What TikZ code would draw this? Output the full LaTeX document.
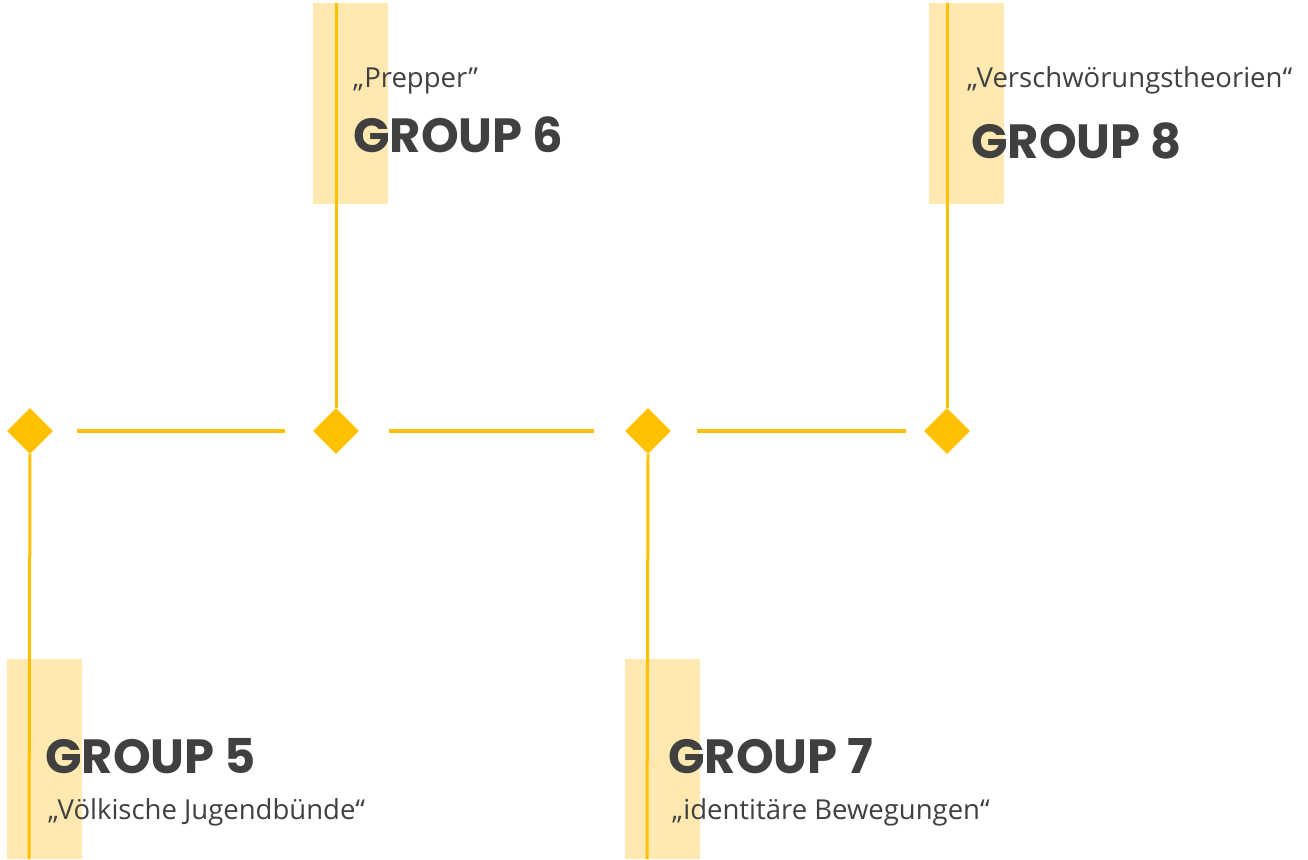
\documentclass[tikz,border=0pt]{standalone}
\usepackage{fontspec}
\setmainfont{Open Sans}
\newfontfamily\titlefont{Poppins}[UprightFont=* Bold]
\usetikzlibrary{shapes.geometric}
\definecolor{gold}{HTML}{FFC000}
\definecolor{lightgold}{HTML}{FFE9B0}
\definecolor{txt}{HTML}{404040}
\begin{document}
\begin{tikzpicture}[x=1pt,y=-1pt,
  gem/.style={diamond,fill=gold,draw=none,minimum width=46pt,minimum height=46pt,inner sep=0pt},
  hline/.style={draw=gold,line width=4pt},
  vline/.style={draw=gold,line width=3pt},
  band/.style={fill=lightgold,draw=none,minimum width=75pt,inner sep=0pt,anchor=north west},
  title/.style={anchor=base west,inner sep=0pt,text=txt,font=\titlefont\fontsize{48}{52}\selectfont},
  sub/.style={anchor=base west,inner sep=0pt,text=txt,font=\fontsize{27.5}{32}\selectfont}]
\useasboundingbox (0,0) rectangle (1308,859);
% background bands
\node[band,minimum height=201pt] (b6) at (313,3) {};
\node[band,minimum height=201pt] (b8) at (929,3) {};
\node[band,minimum height=200pt] (b5) at (7,659) {};
\node[band,minimum height=200pt] (b7) at (625,659) {};
% diamonds
\node[gem] (d5) at (30,431) {};
\node[gem] (d6) at (336,431) {};
\node[gem] (d7) at (648,431) {};
\node[gem] (d8) at (947,431) {};
% free ends
\coordinate (t6) at (336,3);
\coordinate (t8) at (947,3);
\coordinate (e5) at (29,859);
\coordinate (e7) at (647,859);
% horizontal segments
\draw[hline,shorten <=24pt,shorten >=28pt] (d5) -- (d6);
\draw[hline,shorten <=30pt,shorten >=31pt] (d6) -- (d7);
\draw[hline,shorten <=26pt,shorten >=18pt] (d7) -- (d8);
% vertical lines
\draw[vline] (t6) -- (d6.north);
\draw[vline] (t8) -- (d8.north);
\draw[vline] (d5.south) -- (e5);
\draw[vline] (d7.south) -- (e7);
% texts
\node[sub] (s6) at (353,87) {„Prepper”};
\node[title] (g6) at (353,152) {GROUP 6};
\node[sub] (s8) at (967,87) {„Verschwörungstheorien“};
\node[title] (g8) at (971,158) {GROUP 8};
\node[title] (g5) at (45,773) {GROUP 5};
\node[sub] (s5) at (48,819) {„Völkische Jugendbünde“};
\node[title] (g7) at (668,773) {GROUP 7};
\node[sub] (s7) at (672,819) {„identitäre Bewegungen“};
\end{tikzpicture}
\end{document}
